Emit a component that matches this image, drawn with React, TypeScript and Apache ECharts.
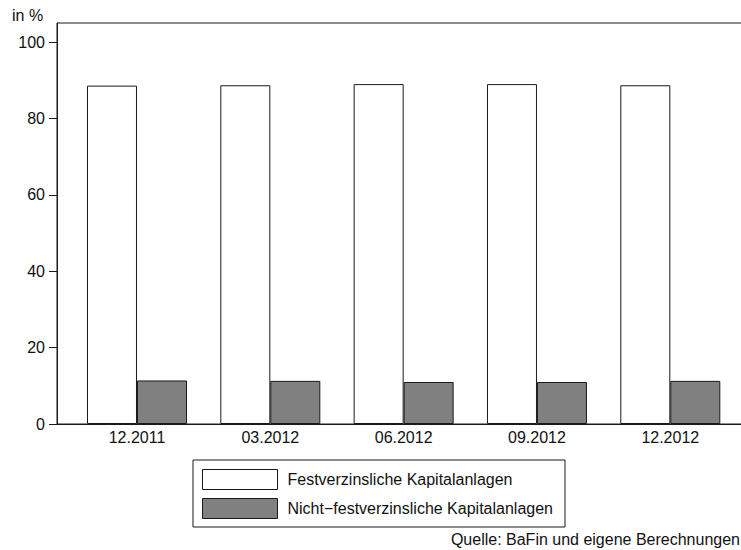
import React, { useEffect, useRef } from "react";
import * as echarts from "echarts";

const categories = ["12.2011", "03.2012", "06.2012", "09.2012", "12.2012"];
const festverzinslich = [88.6, 88.7, 89.0, 89.0, 88.7];
const nichtFestverzinslich = [11.4, 11.3, 11.0, 11.0, 11.3];
const yTicks = [0, 20, 40, 60, 80, 100];
const positions = [1, 2, 3, 4, 5];

const FONT = "'Liberation Sans', Arial, sans-serif";
const LINE = "#1a1a1a";

export default function App() {
  const ref = useRef<HTMLDivElement>(null);
  useEffect(() => {
    if (!ref.current) return;
    const chart = echarts.init(ref.current, undefined, { renderer: "svg" });
    chart.setOption({
      animation: false,
      backgroundColor: "#ffffff",
      textStyle: { fontFamily: FONT },
      grid: {
        left: 57,
        top: 23,
        height: 401,
        width: 693.3,
        show: true,
        borderColor: LINE,
        borderWidth: 1,
        backgroundColor: "transparent",
        containLabel: false,
        outerBoundsMode: "none",
      },
      xAxis: {
        type: "value",
        min: 0.4,
        max: 5.6,
        splitLine: { show: false },
        axisLine: { show: true, onZero: false, lineStyle: { color: LINE, width: 1 } },
        axisTick: { show: false },
        axisLabel: {
          customValues: positions,
          formatter: (v: number) => categories[Math.round(v) - 1] ?? "",
          color: "#111",
          fontSize: 16,
          fontFamily: FONT,
          margin: 5,
        },
      },
      yAxis: {
        type: "value",
        min: 0,
        max: 105,
        splitLine: { show: false },
        axisLine: { show: true, lineStyle: { color: LINE, width: 1 } },
        axisTick: {
          show: true,
          customValues: yTicks,
          length: 8,
          lineStyle: { color: LINE, width: 1 },
        },
        axisLabel: {
          customValues: yTicks,
          color: "#111",
          fontSize: 16,
          fontFamily: FONT,
          margin: 12,
        },
      },
      legend: {
        orient: "vertical",
        left: 193,
        top: 460,
        itemWidth: 75,
        itemHeight: 20,
        itemGap: 8,
        padding: [9, 12, 8, 9],
        borderColor: LINE,
        borderWidth: 1,
        icon: "rect",
        textStyle: { fontSize: 16, fontFamily: FONT, color: "#111", padding: [0, 0, 0, 5] },
        data: [
          { name: "Festverzinsliche Kapitalanlagen", itemStyle: { color: "#ffffff", borderColor: LINE, borderWidth: 1 } },
          { name: "Nicht\u2212festverzinsliche Kapitalanlagen", itemStyle: { color: "#808080", borderColor: LINE, borderWidth: 1 } },
        ],
      },
      graphic: [
        {
          type: "text",
          left: 12,
          top: 7,
          style: { text: "in %", fontSize: 16, fontFamily: FONT, fill: "#111" },
        },
        {
          type: "text",
          x: 740,
          y: 531,
          style: {
            text: "Quelle: BaFin und eigene Berechnungen",
            fontSize: 16,
            fontFamily: FONT,
            fill: "#111",
            align: "right",
          },
        },
      ],
      series: [
        {
          name: "Festverzinsliche Kapitalanlagen",
          type: "bar",
          barWidth: 50,
          barGap: "0%",
          itemStyle: { color: "#ffffff", borderColor: LINE, borderWidth: 1 },
          data: positions.map((p, i) => [p, festverzinslich[i]]),
        },
        {
          name: "Nicht\u2212festverzinsliche Kapitalanlagen",
          type: "bar",
          barWidth: 50,
          barGap: "0%",
          itemStyle: { color: "#808080", borderColor: LINE, borderWidth: 1 },
          data: positions.map((p, i) => [p, nichtFestverzinslich[i]]),
        },
      ],
    });
    return () => chart.dispose();
  }, []);
  return (
    <div
      ref={ref}
      style={{ position: "absolute", left: 0, top: 0, width: 741, height: 550 }}
    />
  );
}
